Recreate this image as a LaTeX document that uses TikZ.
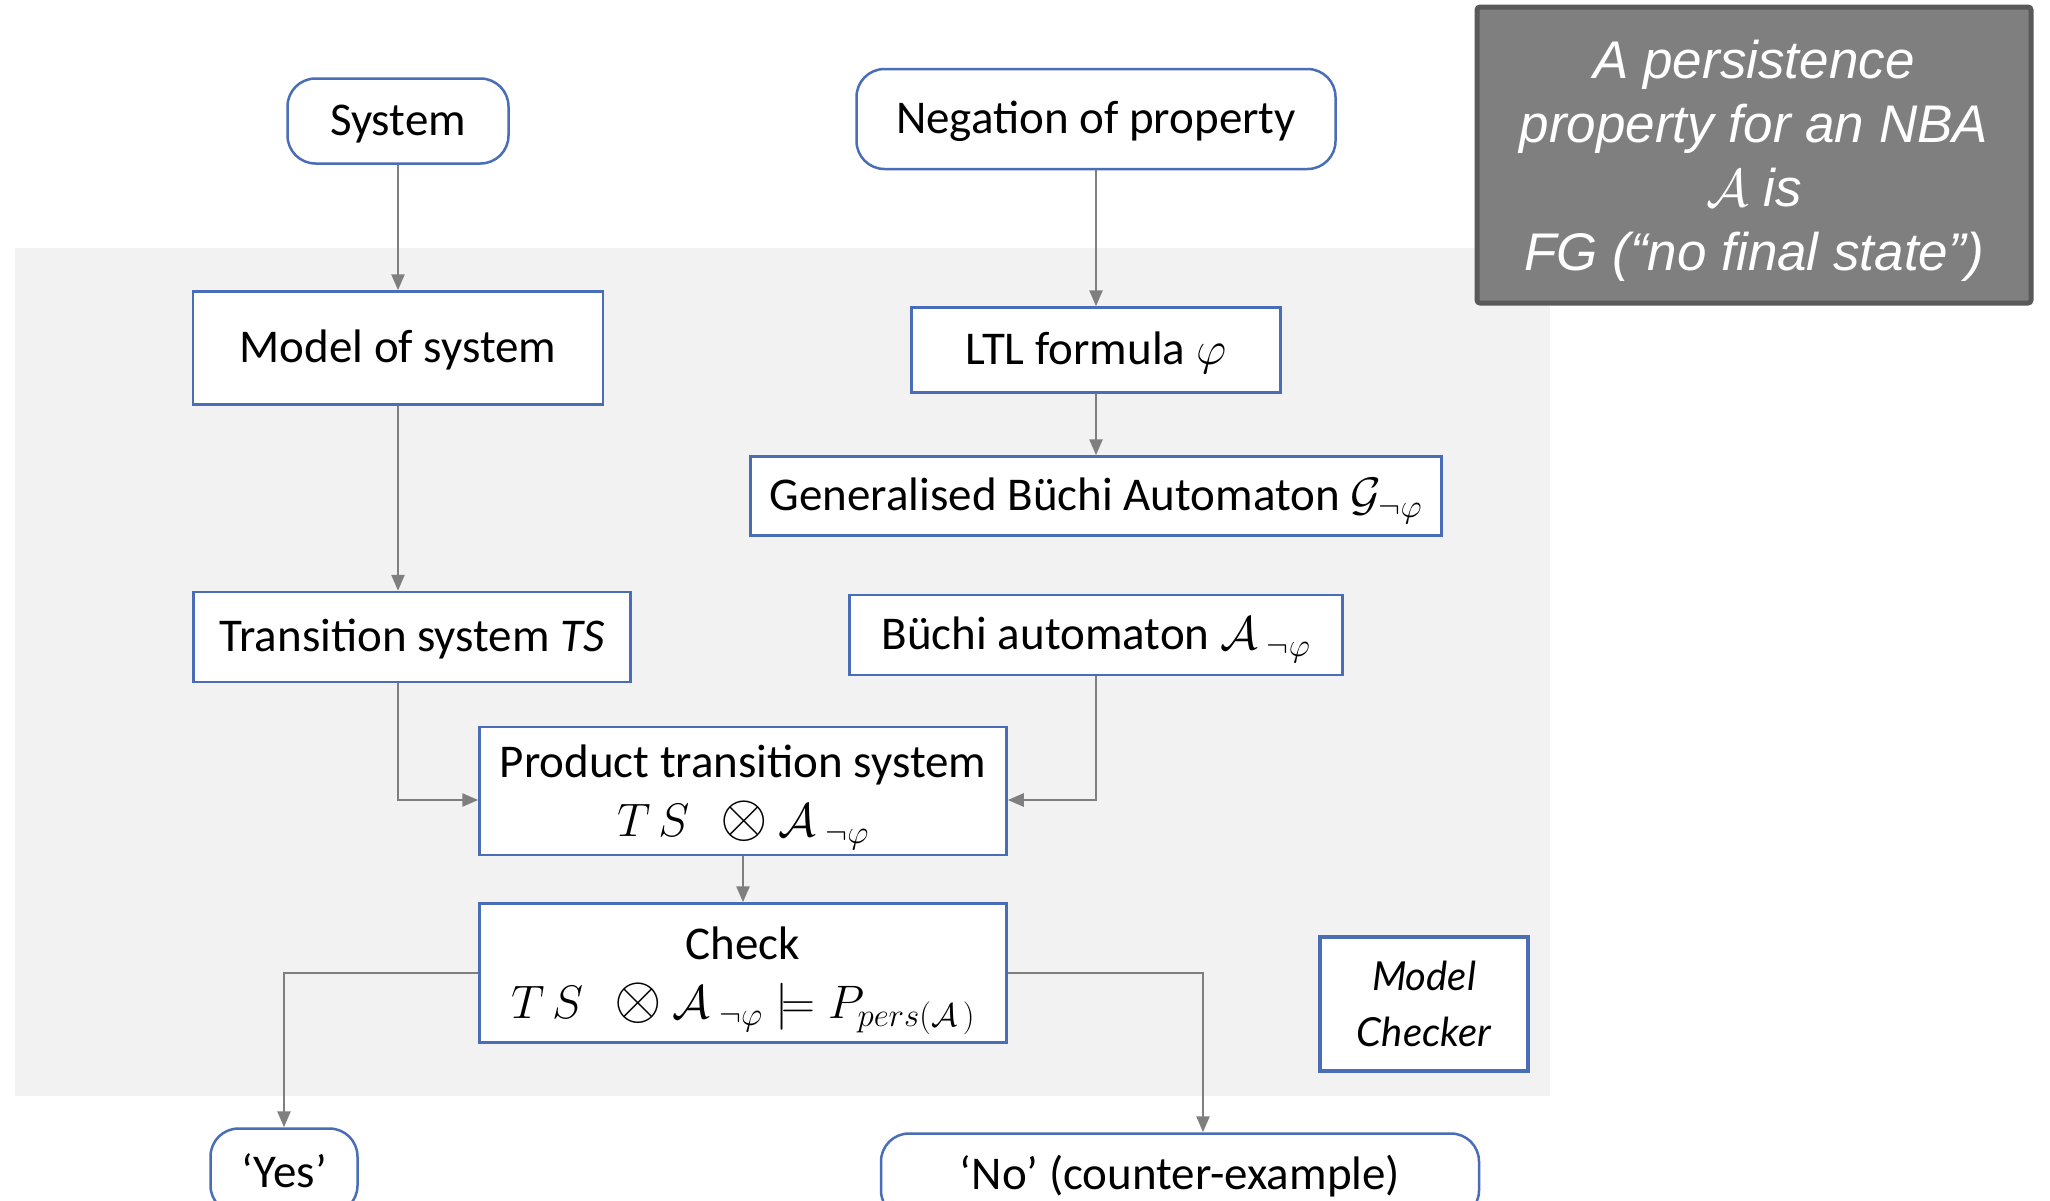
\RequirePackage{fix-cm}
\documentclass[tikz,border=0pt]{standalone}
\usepackage{fontspec}
\setmainfont{Carlito}
\newfontfamily\arialfont{Liberation Sans}
\newfontfamily\handfont{Lato}
\usetikzlibrary{arrows.meta,calc}
\definecolor{boxblue}{HTML}{4A6DB8}
\definecolor{conngray}{HTML}{7F7F7F}
\definecolor{bggray}{HTML}{F2F2F2}
\definecolor{notefill}{HTML}{7F7F7F}
\definecolor{notedraw}{HTML}{595959}
\newcommand{\bigot}{\mathbin{\scalebox{1.3}{$\otimes$}}}
\tikzset{
  box/.style={draw=boxblue, line width=2.5pt, fill=white, inner sep=0pt,
    font=\fontsize{47}{59}\selectfont, text=black},
  tb/.style={text height=39pt, text depth=10pt},
  rbox/.style={box, rounded corners=28pt},
  conn/.style={draw=conngray, line width=2.5pt, -{Triangle[length=16pt,width=13pt]}},
  notetext/.style={text=white, align=center, inner sep=0pt,
    font=\arialfont\itshape\fontsize{53}{64}\selectfont}
}
\begin{document}
\begin{tikzpicture}[x=1pt,y=-1pt]
\useasboundingbox (0,0) rectangle (2050,1200);
\clip (0,0) rectangle (2050,1200);
\fill[white] (0,0) rectangle (2050,1200);
\fill[bggray] (15,248) rectangle (1550,1096);

\node[rbox, tb, minimum width=221pt, minimum height=85pt] (sys) at (398,121) {System};
\node[box, tb, minimum width=410pt, minimum height=113pt] (model) at (398,348) {Model of system};
\node[box, tb, minimum width=437pt, minimum height=90pt] (ts) at (412,637) {Transition system \textit{TS}};
\node[rbox, tb, minimum width=479pt, minimum height=100pt] (neg) at (1096,119) {Negation of property};
\node[box, tb, minimum width=369pt, minimum height=85pt] (ltl) at (1096,350) {LTL formula $\varphi$};
\node[box, tb, minimum width=691pt, minimum height=79pt] (gba) at (1096,496) {Generalised Büchi Automaton $\mathcal{G}_{\neg\varphi}$};
\node[box, tb, minimum width=493pt, minimum height=80pt] (ba) at (1096,635) {Büchi automaton $\mathcal{A}_{\;\neg\varphi}$};
\node[box, minimum width=527pt, minimum height=128pt, align=center] (prod) at (743,791)
  {\rule{0pt}{46pt}Product transition system\\ $T\,S\;\,\bigot\mathcal{A}_{\;\neg\varphi}$};
\node[box, minimum width=527pt, minimum height=139pt, align=center] (check) at (743,973)
  {\rule{0pt}{48pt}Check\\ $T\,S\;\,\bigot\mathcal{A}_{\;\neg\varphi}\models P_{pers(\mathcal{A}\,)}$};
\node[box, line width=4pt, minimum width=208pt, minimum height=134pt, align=center,
  font=\handfont\itshape\fontsize{40}{56}\selectfont] (mc) at (1424,1004) {Model\\Checker};
\draw[draw=notedraw, line width=5pt, fill=notefill, rounded corners=3pt] (1477,7) rectangle (2031,303);
\node[notetext] (note) at (1754,161)
  {A persistence\\ property for an NBA\\ $\mathcal{A}$ is\\ FG (“no final state”)};
\node[rbox, minimum width=147pt, minimum height=85pt] (yes) at (284,1171) {‘Yes’};
\node[rbox, minimum width=598pt, minimum height=85pt] (no) at (1180,1176) {‘No’ (counter-example)};
\coordinate (noin) at (1203,1100);

\draw[conn] (sys) -- (model);
\draw[conn] (model) -- (model.south |- ts.north);
\draw[conn] (model.south |- ts.south) |- ([yshift=-9pt]prod.west);
\draw[conn] (ba.south) |- ([yshift=-9pt]prod.east);
\draw[conn] (neg) -- (ltl);
\draw[conn] (ltl) -- (gba);
\draw[conn] (prod) -- (check);
\draw[conn] (check.west) -| (yes.north);
\draw[conn] (check.east) -| (noin |- no.north);
\end{tikzpicture}
\end{document}
